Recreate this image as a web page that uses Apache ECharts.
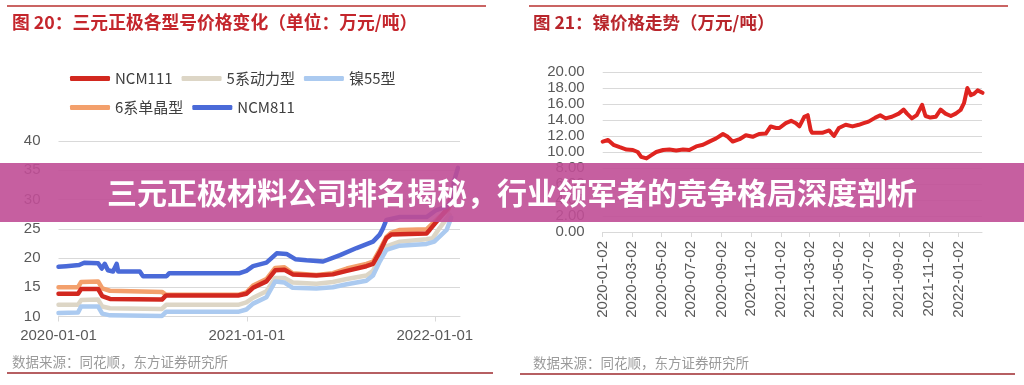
<!DOCTYPE html>
<html><head><meta charset="utf-8">
<script src="https://cdn.jsdelivr.net/npm/echarts@6/dist/echarts.min.js"></script>
<style>html,body{margin:0;padding:0;background:#fff;}#c{width:1024px;height:385px;}</style>
</head><body><div id="c"></div>
<script>
// ---------- Left chart data (万元/吨) ----------
const ncm111Dates = ['2020-01-01','2020-02-08','2020-02-14','2020-03-18','2020-03-26','2020-04-10','2020-07-20','2020-07-28','2020-12-15','2020-12-31','2021-01-13','2021-02-08','2021-02-25','2021-03-15','2021-03-31','2021-05-16','2021-06-17','2021-07-14','2021-08-21','2021-09-03','2021-09-16','2021-09-29','2021-10-08','2021-12-16','2021-12-22','2022-01-11','2022-01-27','2022-02-02'];
const ncm111Values = [13.9,13.9,14.7,14.7,13.5,13.0,12.9,13.6,13.6,13.9,14.9,16.0,17.9,18.0,17.2,17.0,17.2,17.8,18.6,19.0,21.0,23.4,24.0,24.2,24.8,26.9,28.6,31.0];

const type5Dates = ['2020-01-01','2020-02-08','2020-02-14','2020-03-18','2020-03-26','2020-04-10','2020-07-20','2020-07-28','2020-12-15','2020-12-31','2021-01-13','2021-02-08','2021-02-25','2021-03-15','2021-03-31','2021-05-16','2021-06-17','2021-07-14','2021-08-21','2021-09-03','2021-09-16','2021-09-29','2021-10-25','2021-12-16','2021-12-28','2022-01-11','2022-01-30'];
const type5Values = [12.0,12.0,12.8,12.9,11.7,11.4,11.3,12.0,12.0,12.4,13.2,14.3,16.6,16.6,15.8,15.6,15.9,16.4,17.0,17.8,20.0,22.0,22.8,23.2,23.4,25.2,27.4];

const ni55Dates = ['2020-01-01','2020-02-08','2020-02-14','2020-03-18','2020-03-26','2020-04-10','2020-07-20','2020-07-28','2020-12-15','2020-12-31','2021-01-13','2021-02-08','2021-02-25','2021-03-15','2021-03-31','2021-05-16','2021-06-17','2021-07-14','2021-08-21','2021-09-03','2021-09-16','2021-09-29','2021-10-25','2021-12-16','2021-12-31','2022-01-24','2022-02-02'];
const ni55Values = [10.6,10.7,11.7,11.7,10.5,10.2,10.1,10.8,10.8,11.2,12.2,13.3,16.0,15.8,14.9,14.8,15.0,15.5,16.1,17.0,19.4,21.4,22.1,22.4,22.8,24.8,26.9];

const type6Dates = ['2020-01-01','2020-02-08','2020-02-14','2020-03-18','2020-03-26','2020-04-10','2020-07-20','2020-07-28','2020-12-15','2020-12-31','2021-01-13','2021-02-08','2021-02-25','2021-03-15','2021-03-31','2021-05-16','2021-06-17','2021-07-14','2021-08-21','2021-09-03','2021-09-16','2021-09-29','2021-10-08','2021-10-25','2021-12-16','2021-12-22','2022-01-11','2022-01-27','2022-02-01'];
const type6Values = [15.0,15.0,15.9,16.0,14.8,14.4,14.2,13.7,13.7,14.1,15.3,16.4,18.3,18.4,17.4,17.1,17.4,18.2,19.0,19.4,21.4,23.6,24.3,24.8,24.9,25.4,27.1,28.2,29.4];

const ncm811Dates = ['2020-01-01','2020-01-16','2020-02-10','2020-02-20','2020-03-18','2020-03-25','2020-03-31','2020-04-06','2020-04-16','2020-04-23','2020-04-26','2020-06-07','2020-06-13','2020-07-29','2020-08-03','2020-12-18','2020-12-31','2021-01-13','2021-02-08','2021-02-28','2021-03-19','2021-04-05','2021-04-27','2021-05-29','2021-07-01','2021-08-02','2021-09-03','2021-09-16','2021-09-22','2021-09-29','2021-10-25','2021-12-16','2022-01-04','2022-01-24','2022-02-05','2022-02-07','2022-02-15'];
const ncm811Values = [18.5,18.6,18.8,19.2,19.1,18.2,19.0,17.9,17.7,19.0,17.7,17.7,16.9,16.9,17.4,17.4,17.8,18.6,19.2,20.8,20.7,19.8,19.6,19.4,20.5,21.7,22.8,24.0,25.0,26.5,27.0,27.0,28.2,28.8,30.0,33.0,35.4];

const leftTickLabels = ['2020-01-01','2021-01-01','2022-01-01'];

// ---------- Right chart data: 镍价格 (万元/吨) ----------
const niDates = ['2020-01-02','2020-01-13','2020-01-24','2020-02-06','2020-02-20','2020-03-04','2020-03-14','2020-03-21','2020-04-01','2020-04-11','2020-04-21','2020-05-05','2020-05-18','2020-06-01','2020-06-15','2020-06-28','2020-07-12','2020-07-26','2020-08-08','2020-08-22','2020-09-05','2020-09-15','2020-09-25','2020-10-09','2020-10-22','2020-11-05','2020-11-18','2020-12-02','2020-12-12','2020-12-23','2020-12-30','2021-01-12','2021-01-23','2021-02-02','2021-02-09','2021-02-19','2021-02-26','2021-03-04','2021-03-07','2021-03-28','2021-04-11','2021-04-21','2021-05-01','2021-05-15','2021-05-29','2021-06-11','2021-06-21','2021-07-01','2021-07-15','2021-07-25','2021-08-05','2021-08-18','2021-09-01','2021-09-11','2021-09-18','2021-09-28','2021-10-08','2021-10-19','2021-10-26','2021-11-05','2021-11-16','2021-11-26','2021-12-06','2021-12-17','2021-12-27','2022-01-06','2022-01-13','2022-01-20','2022-01-27','2022-02-03','2022-02-10','2022-02-20'];
const niValues = [11.3,11.5,10.9,10.6,10.3,10.25,10.0,9.4,9.2,9.6,10.0,10.25,10.3,10.2,10.3,10.25,10.7,10.9,11.3,11.7,12.25,11.9,11.3,11.6,12.1,11.9,12.25,12.3,13.2,13.0,13.0,13.6,13.9,13.6,13.2,14.4,14.6,12.75,12.4,12.4,12.7,12.0,13.0,13.4,13.2,13.4,13.6,13.8,14.3,14.6,14.2,14.4,14.8,15.3,14.8,14.2,14.6,15.9,14.5,14.3,14.4,15.3,14.8,14.5,14.8,15.25,16.1,18.0,17.1,17.3,17.7,17.4];

const rightTickLabels = ['2020-01-02','2020-03-02','2020-05-02','2020-07-02','2020-09-02','2020-11-02','2021-01-02','2021-03-02','2021-05-02','2021-07-02','2021-09-02','2021-11-02','2022-01-02'];

// ---------- helpers ----------
const toTs = s => { const p = s.split('-').map(Number); return new Date(p[0], p[1]-1, p[2]).getTime(); };
const pair = (d, v) => d.map((x, i) => [toTs(x), v[i]]);
const fmtDate = v => echarts.time.format(v, '{yyyy}-{MM}-{dd}', false);

const FONT = "'Liberation Sans', 'Noto Sans CJK SC', sans-serif";
const CJK = "'Noto Sans CJK SC', 'Liberation Sans', sans-serif";
const GRID = '#d9d9d9';
const LABEL = '#595959';

const chart = echarts.init(document.getElementById('c'), null, {renderer: 'canvas'});

const lineSeries = (name, dates, vals, color, xi) => ({
  name, type: 'line', xAxisIndex: xi, yAxisIndex: xi, data: pair(dates, vals),
  showSymbol: false, symbol: 'none', smooth: false, animation: false,
  lineStyle: {color, width: 4.5, cap: 'round', join: 'round'}, itemStyle: {color}
});

const legendBase = {
  left: 65, itemWidth: 40, itemHeight: 5, itemGap: 9, icon: 'roundRect',
  textStyle: {fontSize: 15, color: '#404040', fontFamily: CJK, width: 66}
};

const xAxisBase = (gi, minD, maxD, ticks, extraLabel) => ({
  type: 'value', gridIndex: gi, min: toTs(minD), max: toTs(maxD), scale: true,
  axisLine: {show: true, onZero: false, lineStyle: {color: GRID, width: 1}},
  axisTick: {show: true, customValues: ticks.map(toTs), length: 5, lineStyle: {color: GRID}},
  axisLabel: Object.assign({customValues: ticks.map(toTs), formatter: fmtDate, fontSize: 15, color: LABEL, fontFamily: FONT}, extraLabel),
  splitLine: {show: false}
});

const option = {
  animation: false,
  backgroundColor: '#fff',
  grid: [
    {left: 58.5, right: 1024 - 460, top: 141, bottom: 385 - 316.5},
    {left: 602.7, right: 42, top: 72, bottom: 153}
  ],
  legend: [
    Object.assign({}, legendBase, {top: 66, data: ['NCM111', '5系动力型', '镍55型']}),
    Object.assign({}, legendBase, {top: 95, data: ['6系单晶型', 'NCM811']})
  ],
  xAxis: [
    xAxisBase(0, '2020-01-01', '2022-02-19', leftTickLabels, {margin: 12}),
    xAxisBase(1, '2020-01-02', '2022-02-19', rightTickLabels, {margin: 9, rotate: 90})
  ],
  yAxis: [
    {
      type: 'value', gridIndex: 0, min: 10, max: 40, interval: 5,
      axisLine: {show: false}, axisTick: {show: false},
      axisLabel: {fontSize: 15, color: LABEL, margin: 18, fontFamily: FONT},
      splitLine: {show: true, lineStyle: {color: GRID, width: 1.2}}
    },
    {
      type: 'value', gridIndex: 1, min: 0, max: 20, interval: 2,
      axisLine: {show: false}, axisTick: {show: false},
      axisLabel: {fontSize: 15, color: LABEL, margin: 18, fontFamily: FONT, formatter: v => v.toFixed(2)},
      splitLine: {show: true, lineStyle: {color: GRID, width: 1.2}}
    }
  ],
  series: [
    lineSeries('5系动力型', type5Dates, type5Values, '#ddd6c6', 0),
    lineSeries('镍55型', ni55Dates, ni55Values, '#abcaf0', 0),
    lineSeries('6系单晶型', type6Dates, type6Values, '#f3a06c', 0),
    lineSeries('NCM111', ncm111Dates, ncm111Values, '#d2281f', 0),
    lineSeries('NCM811', ncm811Dates, ncm811Values, '#4a6ad8', 0),
    Object.assign(lineSeries('镍价格', niDates, niValues, '#df2420', 1), {lineStyle: {color: '#df2420', width: 4, join: 'round', cap: 'round'}})
  ],
  graphic: [
    {type: 'line', shape: {x1: 7, y1: 6, x2: 486, y2: 6}, style: {stroke: '#b8312f', lineWidth: 1.5}},
    {type: 'line', shape: {x1: 529, y1: 6, x2: 1008, y2: 6}, style: {stroke: '#b8312f', lineWidth: 1.5}},
    {type: 'line', shape: {x1: 7, y1: 373, x2: 493, y2: 373}, style: {stroke: '#9e2a2e', lineWidth: 1.5}},
    {type: 'line', shape: {x1: 520, y1: 374, x2: 1015, y2: 374}, style: {stroke: '#9e2a2e', lineWidth: 1.5}},
    {type: 'text', x: 12, y: 22, style: {text: '图 20：三元正极各型号价格变化（单位：万元/吨）', fill: '#c4262c', font: 'bold 17.8px ' + CJK, textAlign: 'left', textVerticalAlign: 'middle'}},
    {type: 'text', x: 533, y: 22, style: {text: '图 21：镍价格走势（万元/吨）', fill: '#b8262c', font: 'bold 17.5px ' + CJK, textAlign: 'left', textVerticalAlign: 'middle'}},
    {type: 'text', x: 12, y: 362, style: {text: '数据来源：同花顺，东方证券研究所', fill: '#9a9a9a', font: '13.5px ' + CJK, textAlign: 'left', textVerticalAlign: 'middle'}},
    {type: 'text', x: 533, y: 363, style: {text: '数据来源：同花顺，东方证券研究所', fill: '#9a9a9a', font: '13.5px ' + CJK, textAlign: 'left', textVerticalAlign: 'middle'}},
    {type: 'rect', z: 100, shape: {x: 0, y: 163, width: 1024, height: 59}, style: {fill: 'rgba(192,78,150,0.9)'}},
    {type: 'text', z: 101, x: 512, y: 193, style: {text: '三元正极材料公司排名揭秘，行业领军者的竞争格局深度剖析', fill: '#ffffff', font: 'bold 30px ' + CJK, textAlign: 'center', textVerticalAlign: 'middle'}}
  ]
};
chart.setOption(option);
</script></body></html>
